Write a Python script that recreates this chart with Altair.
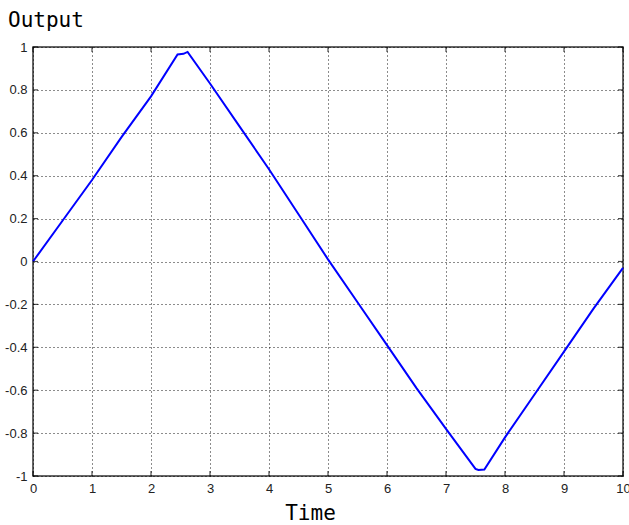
import altair as alt
import pandas as pd

# Signal values
time = [0, 0.5, 1, 1.5, 2, 2.45, 2.55, 2.62, 3, 3.5, 4, 4.5, 5, 5.5, 6, 6.5,
        7, 7.5, 7.55, 7.65, 8, 8.5, 9, 9.5, 10]
output = [0, 0.19, 0.38, 0.58, 0.77, 0.965, 0.968, 0.977, 0.83, 0.63, 0.43, 0.22,
          0.01, -0.19, -0.39, -0.59, -0.78, -0.967, -0.972, -0.97, -0.82, -0.62,
          -0.42, -0.22, -0.03]

x_ticks = list(range(0, 11))
y_ticks = [-1, -0.8, -0.6, -0.4, -0.2, 0, 0.2, 0.4, 0.6, 0.8, 1]

W, H = 590, 429

df = pd.DataFrame({"t": time, "y": output})
xt = pd.DataFrame({"t": x_ticks})
yt = pd.DataFrame({"y": y_ticks})

xscale = alt.Scale(domain=[0, 10], nice=False, zero=False)
yscale = alt.Scale(domain=[-1, 1], nice=False, zero=False)

label_font = "Liberation Sans"
title_font = "DejaVu Sans Mono"

line = alt.Chart(df).mark_line(color="#0000ff", strokeWidth=2).encode(
    x=alt.X("t:Q", scale=xscale,
            axis=alt.Axis(values=x_ticks, title="Time", grid=True, format="d",
                          gridColor="#000", gridDash=[1, 3], gridOpacity=0.9,
                          ticks=False, domain=False, labelPadding=6,
                          labelFont=label_font, labelFontSize=13, labelColor="#222",
                          labelFlush=False,
                          titleFont=title_font, titleFontSize=21, titleFontWeight="normal",
                          titleColor="#000", titleX=277, titleY=43,
                          titleBaseline="alphabetic", titleAlign="center")),
    y=alt.Y("y:Q", scale=yscale,
            axis=alt.Axis(values=y_ticks, title=None, grid=True,
                          gridColor="#000", gridDash=[1, 3], gridOpacity=0.9,
                          ticks=False, domain=False, labelPadding=6,
                          labelFont=label_font, labelFontSize=13, labelColor="#222",
                          labelFlush=False,
                          labelExpr="toString(round(datum.value*10)/10)")),
)

tick_style = dict(color="#000", thickness=1.2, size=5)

xb = alt.Chart(xt).mark_tick(orient="vertical", **tick_style).encode(
    x=alt.X("t:Q", scale=xscale), y=alt.value(H - 2.5))
xtop = alt.Chart(xt).mark_tick(orient="vertical", **tick_style).encode(
    x=alt.X("t:Q", scale=xscale), y=alt.value(2.5))
yl = alt.Chart(yt).mark_tick(orient="horizontal", **tick_style).encode(
    y=alt.Y("y:Q", scale=yscale), x=alt.value(2.5))
yr = alt.Chart(yt).mark_tick(orient="horizontal", **tick_style).encode(
    y=alt.Y("y:Q", scale=yscale), x=alt.value(W - 2.5))

title_df = pd.DataFrame({"label": ["Output"]})
title = alt.Chart(title_df).mark_text(
    font=title_font, fontSize=21, align="left", baseline="alphabetic", color="#000"
).encode(text="label:N", x=alt.value(-25), y=alt.value(-20))

chart = alt.layer(line, xb, xtop, yl, yr, title).properties(
    width=W, height=H,
    padding={"left": 33, "top": 47, "right": 6, "bottom": 49},
    autosize=alt.AutoSizeParams(type="none"),
    background="white",
).configure_view(stroke="#333", strokeWidth=1.5)

chart.save("out.html", embed_options={"renderer": "svg", "actions": False})
